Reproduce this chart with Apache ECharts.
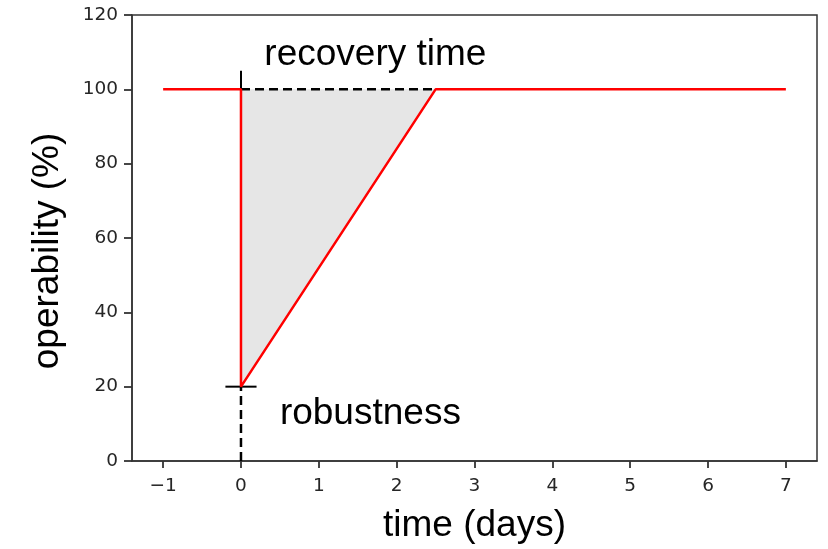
<!DOCTYPE html>
<html>
<head>
<meta charset="utf-8">
<script src="https://cdn.jsdelivr.net/npm/echarts@6/dist/echarts.min.js"></script>
<style>html,body{margin:0;padding:0;background:#fff}#c{width:828px;height:549px}</style>
</head>
<body>
<div id="c"></div>
<script>
// Data
const curveX = [-1, 0, 0, 2.5, 7];
const curveY = [100, 100, 20, 100, 100];
const lossX = [0, 0, 2.5];
const lossY = [100, 20, 100];
const recoveryDashX = [0, 2.5];
const recoveryDashY = [100, 100];
const robustDashX = [0, 0];
const robustDashY = [0, 20];
const recoveryTickX = [0, 0];
const recoveryTickY = [100, 105];
const robustTickX = [-0.2, 0.2];
const robustTickY = [20, 20];
const xTicks = [-1, 0, 1, 2, 3, 4, 5, 6, 7];
const yTicks = [0, 20, 40, 60, 80, 100, 120];
const annotations = [
  { text: 'recovery time', x: 0.3, y: 109.3 },
  { text: 'robustness', x: 0.5, y: 12.6 }
];

const pts = (xs, ys) => xs.map((x, i) => [x, ys[i]]);

const chart = echarts.init(document.getElementById('c'), null, { renderer: 'canvas' });
const tickColor = '#262626';
const option = {
  animation: false,
  backgroundColor: '#fff',
  grid: { left: 132, right: 11, top: 15, bottom: 88, show: true, borderColor: '#333', borderWidth: 1.5, backgroundColor: 'transparent' },
  xAxis: {
    type: 'value', min: -1.4, max: 7.4,
    name: 'time (days)', nameLocation: 'middle', nameGap: 46,
    nameTextStyle: { fontFamily: 'Liberation Sans', fontSize: 37, color: '#000' },
    axisLine: { show: true, onZero: false, lineStyle: { color: '#333', width: 1.5 } },
    axisTick: { show: true, length: 7, customValues: xTicks, lineStyle: { color: '#333', width: 1.8 } },
    axisLabel: { customValues: xTicks, margin: 16, fontFamily: 'DejaVu Sans', fontSize: 18.5, color: tickColor,
      formatter: v => (v < 0 ? '\u2212' + Math.abs(v) : String(v)) },
    splitLine: { show: false }
  },
  yAxis: {
    type: 'value', min: 0, max: 120, interval: 20,
    name: 'operability (%)', nameLocation: 'middle', nameGap: 66, nameRotate: 90,
    nameTextStyle: { fontFamily: 'Liberation Sans', fontSize: 37, color: '#000', padding: [0, 26, 0, 0] },
    axisLine: { show: true, onZero: false, lineStyle: { color: '#333', width: 1.5 } },
    axisTick: { show: true, length: 8, lineStyle: { color: '#333', width: 1.8 } },
    axisLabel: { margin: 14, fontFamily: 'DejaVu Sans', fontSize: 18.5, color: tickColor },
    splitLine: { show: false }
  },
  series: [
    {
      type: 'custom', z: 1,
      data: pts(lossX, lossY),
      renderItem: function (params, api) {
        if (params.dataIndex !== 0) return null;
        const points = lossX.map((x, i) => api.coord([x, lossY[i]]));
        return { type: 'polygon', shape: { points: points }, style: { fill: '#e6e6e6', stroke: null } };
      },
      silent: true
    },
    { type: 'line', z: 3, data: pts(recoveryDashX, recoveryDashY), symbol: 'none',
      lineStyle: { color: '#000', width: 2.5, type: [9, 5] } },
    { type: 'line', z: 3, data: pts(robustDashX, robustDashY), symbol: 'none',
      lineStyle: { color: '#000', width: 2.5, type: [9, 5] } },
    { type: 'line', z: 3, data: pts(recoveryTickX, recoveryTickY), symbol: 'none',
      lineStyle: { color: '#000', width: 2 } },
    { type: 'line', z: 3, data: pts(robustTickX, robustTickY), symbol: 'none',
      lineStyle: { color: '#000', width: 2 } },
    { type: 'line', z: 4, data: pts(curveX, curveY), symbol: 'none',
      lineStyle: { color: '#ff0000', width: 2.5 } },
    {
      type: 'scatter', z: 5, symbolSize: 0,
      itemStyle: { opacity: 1 },
      data: annotations.map(a => ({ value: [a.x, a.y], name: a.text })),
      label: { show: true, position: 'right', distance: 0, formatter: p => p.name, opacity: 1,
        fontFamily: 'Liberation Sans', fontSize: 37, color: '#000' },
      silent: true
    }
  ]
};
chart.setOption(option);
</script>
</body>
</html>
